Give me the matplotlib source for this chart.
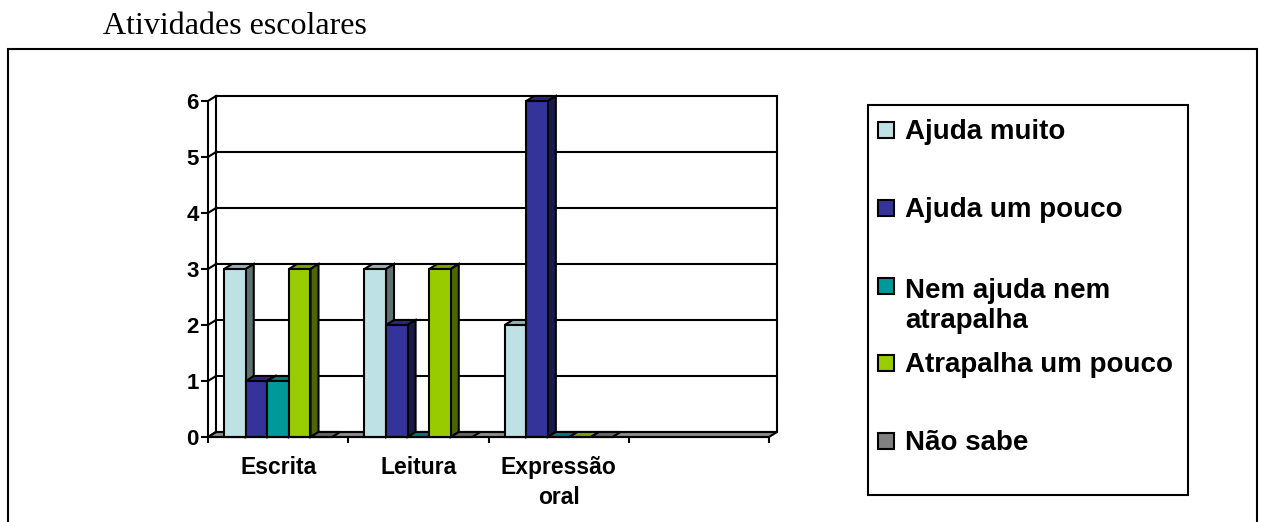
import numpy as np
import matplotlib
matplotlib.use('Agg')
import matplotlib.pyplot as plt
from matplotlib.patches import Polygon, Rectangle
from matplotlib.colors import to_rgb

# ---------------- data ----------------
title = "Atividades escolares"
categories = ["Escrita", "Leitura", "Expressão\noral", ""]
series_names = ["Ajuda muito", "Ajuda um pouco", "Nem ajuda nem\natrapalha",
                "Atrapalha um pouco", "Não sabe"]
ajuda_muito = [3, 3, 2, np.nan]
ajuda_um_pouco = [1, 2, 6, np.nan]
nem_ajuda_nem_atrapalha = [1, 0, 0, np.nan]
atrapalha_um_pouco = [3, 3, 0, np.nan]
nao_sabe = [0, 0, 0, np.nan]
y_ticks = [0, 1, 2, 3, 4, 5, 6]
series_values = [ajuda_muito, ajuda_um_pouco, nem_ajuda_nem_atrapalha,
                 atrapalha_um_pouco, nao_sabe]
colors = ['#BDE1E4', '#333399', '#009999', '#99CC00', '#808080']

# ---------------- layout ----------------
W, H = 1261, 522
fig = plt.figure(figsize=(W / 100, H / 100), dpi=100)
fig.patch.set_facecolor('white')


def fx(px):
    return px / W


def fy(py):
    return 1 - py / H


LW = 1.5
SANS = ['Liberation Sans', 'Arial', 'DejaVu Sans']
SERIF = ['Liberation Serif', 'Times New Roman', 'DejaVu Serif']

# outer frame
fig.add_artist(Rectangle((fx(8), fy(540)), fx(1257) - fx(8), fy(49) - fy(540),
                         transform=fig.transFigure, fill=False, ec='black', lw=LW))
# title
fig.text(fx(103), fy(34), title, family=SERIF, fontsize=23, va='baseline', ha='left')

ax = fig.add_axes([fx(208), fy(437), fx(769) - fx(208), fy(101) - fy(437)])
ncat = len(categories)
ymax = y_ticks[-1]
ax.set_xlim(0, ncat)
ax.set_ylim(0, ymax)
ax.patch.set_visible(False)

# depth offsets in data units (8 px right, 5 px up)
DX = 8 * ncat / 561
DY = 5 * ymax / 336

# floor
ax.add_patch(Polygon([(0, 0), (ncat, 0), (ncat + DX, DY), (DX, DY)], closed=True,
                     fc='#8E8E8E', ec='black', lw=LW, clip_on=False, zorder=2))
# back wall gridlines + side wall gridlines
for y in y_ticks:
    ax.plot([DX, ncat + DX], [y + DY, y + DY], color='black', lw=LW,
            clip_on=False, zorder=3, solid_capstyle='projecting')
    ax.plot([0, DX], [y, y + DY], color='black', lw=LW, clip_on=False, zorder=3)
ax.plot([DX, DX], [DY, ymax + DY], color='black', lw=LW, clip_on=False, zorder=3)
ax.plot([ncat + DX, ncat + DX], [DY, ymax + DY], color='black', lw=LW,
        clip_on=False, zorder=3)


def shade(c, f):
    r, g, b = to_rgb(c)
    return (r * f, g * f, b * f)


# bars
nser = len(series_values)
w = 1.0 / (nser + 1.5)
for s, (vals, col) in enumerate(zip(series_values, colors)):
    z = 10 + 2 * s
    xs, hs = [], []
    for c, v in enumerate(vals):
        if np.isnan(v):
            continue
        x0 = c + 0.75 * w + s * w
        x1 = x0 + w
        xs.append(x0)
        hs.append(v)
        # top face
        ax.add_patch(Polygon([(x0, v), (x1, v), (x1 + DX, v + DY), (x0 + DX, v + DY)],
                             closed=True, fc=shade(col, 0.8), ec='black', lw=LW,
                             clip_on=False, zorder=z))
        if v > 0:
            ax.add_patch(Polygon([(x1, 0), (x1 + DX, DY), (x1 + DX, v + DY), (x1, v)],
                                 closed=True, fc=shade(col, 0.5), ec='black', lw=LW,
                                 clip_on=False, zorder=z))
    pos = [x for x, h in zip(xs, hs) if h > 0]
    hh = [h for h in hs if h > 0]
    if pos:
        ax.bar(pos, hh, width=w, align='edge', color=col, edgecolor='black',
               linewidth=LW, zorder=z + 1, clip_on=False)

# axes styling
for sp in ['top', 'right']:
    ax.spines[sp].set_visible(False)
for sp in ['left', 'bottom']:
    ax.spines[sp].set_linewidth(LW)
    ax.spines[sp].set_color('black')
    ax.spines[sp].set_zorder(30)

ax.set_yticks(y_ticks)
ax.set_yticklabels([str(t) for t in y_ticks], fontsize=16, fontweight='bold', family=SANS)
ax.tick_params(axis='y', direction='out', length=5, width=LW, pad=1.5)

ax.set_xticks(range(ncat + 1))
ax.set_xticklabels([''] * (ncat + 1))
ax.set_xticks([c + 0.5 for c in range(ncat)], minor=True)
ax.set_xticklabels(categories, minor=True, fontsize=16.5, fontweight='bold', family=SANS)
ax.tick_params(axis='x', which='major', direction='out', length=4.5, width=LW)
ax.tick_params(axis='x', which='minor', length=0, pad=13.5)
for lbl in ax.get_xticklabels(minor=True):
    lbl.set_linespacing(1.42)

# legend (manual, to mimic the original layout)
fig.add_artist(Rectangle((fx(868), fy(495)), fx(1188) - fx(868), fy(105) - fy(495),
                         transform=fig.transFigure, fill=False, ec='black', lw=LW))
LEG_FS = 20
line_px = 1.2 * LEG_FS * 100 / 72
for i, (name, col) in enumerate(zip(series_names, colors)):
    base = 139 + i * 77.8
    fig.add_artist(Rectangle((fx(878), fy(base - 1)), fx(894) - fx(878),
                             fy(base - 17) - fy(base - 1), transform=fig.transFigure,
                             fc=col, ec='black', lw=LW))
    nlines = name.count('\n') + 1
    fig.text(fx(905), fy(base + (nlines - 1) * line_px), name, family=SANS,
             fontsize=LEG_FS, fontweight='bold', va='baseline', ha='left',
             linespacing=1.2)

fig.savefig('out.png', dpi=100)
